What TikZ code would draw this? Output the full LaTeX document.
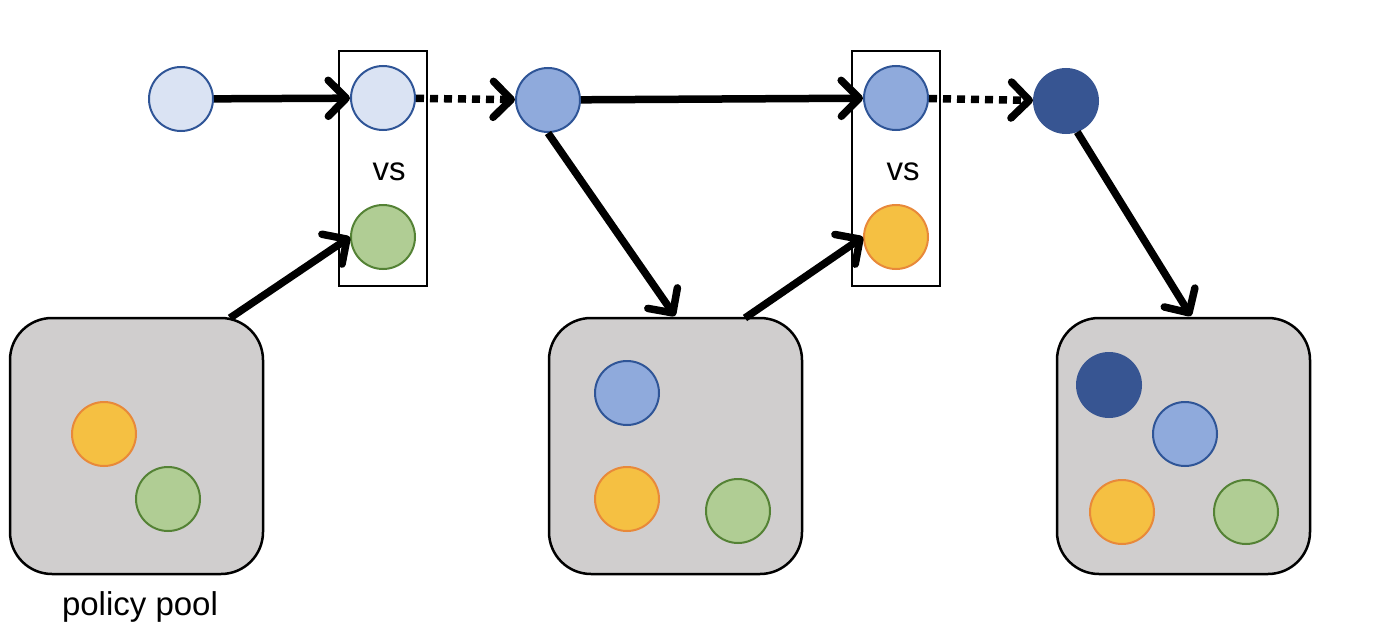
\documentclass[tikz,border=0pt]{standalone}
\usepackage{fontspec}
\setmainfont{Liberation Sans}
\usetikzlibrary{arrows,arrows.meta,positioning}
\definecolor{bordeazul}{RGB}{47,85,151}
\definecolor{azulclaro}{RGB}{218,227,243}
\definecolor{azulmedio}{RGB}{143,170,220}
\definecolor{azuloscuro}{RGB}{55,85,146}
\definecolor{verde}{RGB}{176,205,148}
\definecolor{bordeverde}{RGB}{84,130,53}
\definecolor{naranja}{RGB}{245,192,66}
\definecolor{bordenaranja}{RGB}{232,137,58}
\definecolor{grispool}{RGB}{208,206,206}
\tikzstyle{policy} = [circle, line width=2pt, minimum size=64pt, inner sep=0pt]
\tikzstyle{claro} = [policy, draw=bordeazul, fill=azulclaro]
\tikzstyle{medio} = [policy, draw=bordeazul, fill=azulmedio]
\tikzstyle{oscuro} = [policy, draw=azuloscuro, fill=azuloscuro]
\tikzstyle{verdep} = [policy, draw=bordeverde, fill=verde]
\tikzstyle{naranjap} = [policy, draw=bordenaranja, fill=naranja]
\tikzstyle{pool} = [draw=black, fill=grispool, line width=2.5pt, rounded corners=42pt, minimum width=253pt, minimum height=256pt]
\tikzstyle{vsbox} = [draw=black, line width=2pt, minimum width=88pt, minimum height=235pt]
\tikzstyle{flecha} = [line width=7.5pt, -{Straight Barb[length=18pt,width=36pt,line cap=round,line join=round]}]
\tikzstyle{flechapuntos} = [flecha, dash pattern=on 8pt off 6pt]
\tikzstyle{etiqueta} = [font=\fontsize{33}{40}\selectfont, inner sep=0pt]

\begin{document}
\begin{tikzpicture}[x=1pt, y=-1pt]
\useasboundingbox (0,0) rectangle (1382,642);
% pools
\node[pool] (pool1) at (136.5,446) {};
\node[pool] (pool2) at (675.5,446) {};
\node[pool] (pool3) at (1183.5,446) {};
\node[etiqueta, anchor=base] (label) at (140,615) {policy pool};
% comparison boxes
\node[vsbox] (box1) at (383,168.5) {};
\node[vsbox] (box2) at (896,168.5) {};
\node[etiqueta] (vs1) at (389,172) {vs};
\node[etiqueta] (vs2) at (903,172) {vs};
% top row
\node[claro] (c1) at (181,99) {};
\node[claro] (c2) at (383,98) {};
\node[medio] (c3) at (548,100) {};
\node[medio] (c4) at (896,98) {};
\node[oscuro] (c5) at (1066,101) {};
\node[verdep] (opp1) at (383,237) {};
\node[naranjap] (opp2) at (896,237) {};
% pool contents
\node[naranjap] (p1a) at (104,434) {};
\node[verdep] (p1b) at (168,499) {};
\node[medio] (p2a) at (627,393) {};
\node[naranjap] (p2b) at (627,499) {};
\node[verdep] (p2c) at (738,511) {};
\node[oscuro] (p3a) at (1109,385) {};
\node[medio] (p3b) at (1185,434) {};
\node[naranjap] (p3c) at (1122,512) {};
\node[verdep] (p3d) at (1246,512) {};
% connectors
\coordinate (out1) at (230,318);
\coordinate (in2) at (675,316);
\coordinate (out2) at (745,318);
\coordinate (in3) at (1191,316);
\draw[flecha] (c1) -- (c2);
\draw[flechapuntos] (c2) -- (c3);
\draw[flecha] (c3) -- (c4);
\draw[flechapuntos] (c4) -- (c5);
\draw[flecha] (out1) -- (opp1.west);
\draw[flecha] (c3.south) -- (in2);
\draw[flecha] (out2) -- (opp2.west);
\draw[flecha] (c5.-70) -- (in3);
\end{tikzpicture}
\end{document}
